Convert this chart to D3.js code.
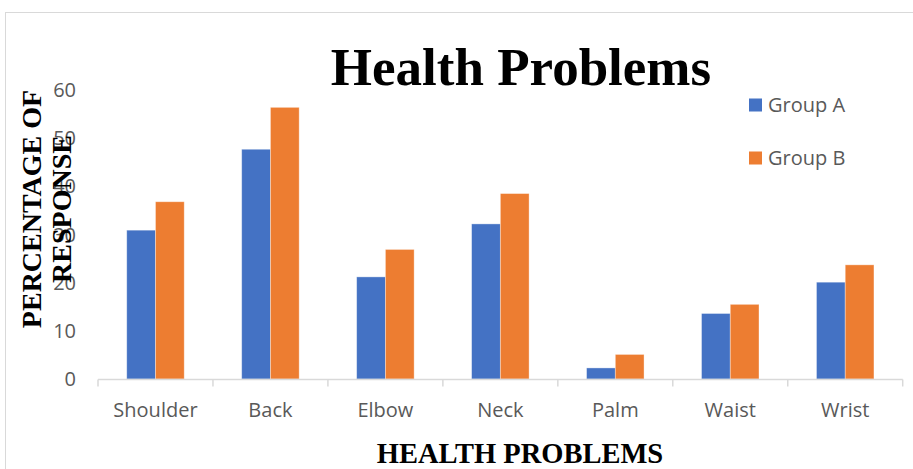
<!DOCTYPE html>
<html>
<head>
<meta charset="utf-8">
<script src="https://cdn.jsdelivr.net/npm/d3@7"></script>
<style>
  html, body { margin: 0; padding: 0; background: #fff; }
  svg { display: block; }
</style>
</head>
<body>
<svg id="chart" width="913" height="469"></svg>
<script>
// Body areas surveyed
const categories = ["Shoulder", "Back", "Elbow", "Neck", "Palm", "Waist", "Wrist"];
// Percentage of respondents reporting each problem
const groupA = [30.9, 47.7, 21.2, 32.2, 2.3, 13.6, 20.1];
const groupB = [36.8, 56.4, 26.9, 38.5, 5.1, 15.5, 23.7];
const seriesNames = ["Group A", "Group B"];
const seriesColors = ["#4472c4", "#ed7d31"];
const yTicks = [0, 10, 20, 30, 40, 50, 60];

const series = [groupA, groupB];
const svg = d3.select("#chart");
const labelFont = "'Open Sans', sans-serif";
const labelSize = 20;

// outer chart frame
svg.append("rect")
  .attr("x", 5.5).attr("y", 12.5)
  .attr("width", 930).attr("height", 470)
  .attr("fill", "none").attr("stroke", "#d9d9d9").attr("stroke-width", 1);

const plot = { left: 98, right: 902.7, top: 90, bottom: 379 };

const x0 = d3.scaleBand()
  .domain(categories)
  .range([plot.left, plot.right])
  .padding(0);

const x1 = d3.scaleBand()
  .domain(d3.range(series.length))
  .range([x0.bandwidth() * 0.25, x0.bandwidth() * 0.75])
  .padding(0);

const y = d3.scaleLinear()
  .domain([0, 60])
  .range([plot.bottom, plot.top]);

// bars
const groups = svg.append("g").selectAll("g")
  .data(categories)
  .join("g")
  .attr("transform", d => `translate(${x0(d)},0)`);

groups.selectAll("rect")
  .data((d, i) => series.map((s, k) => ({ k, v: s[i] })))
  .join("rect")
  .attr("x", d => x1(d.k))
  .attr("y", d => y(d.v))
  .attr("width", x1.bandwidth())
  .attr("height", d => y(0) - y(d.v))
  .attr("fill", d => seriesColors[d.k])
  .attr("stroke", "rgba(255,255,255,0.45)")
  .attr("stroke-width", 0.8);

// category axis
const xAxis = svg.append("g")
  .attr("transform", `translate(0,${plot.bottom + 0.5})`);
xAxis.append("line")
  .attr("x1", plot.left).attr("x2", plot.right)
  .attr("stroke", "#d9d9d9").attr("stroke-width", 1.5);
const bounds = categories.map(c => x0(c)).concat([plot.right]);
xAxis.selectAll("line.tick")
  .data(bounds)
  .join("line")
  .attr("class", "tick")
  .attr("x1", d => d).attr("x2", d => d)
  .attr("y1", 0).attr("y2", 7)
  .attr("stroke", "#d9d9d9").attr("stroke-width", 1.5);
xAxis.selectAll("text")
  .data(categories)
  .join("text")
  .attr("x", d => x0(d) + x0.bandwidth() / 2)
  .attr("y", 37)
  .attr("text-anchor", "middle")
  .attr("font-family", labelFont)
  .attr("font-size", labelSize)
  .attr("fill", "#595959")
  .text(d => d);

// value axis labels
svg.append("g").selectAll("text")
  .data(yTicks)
  .join("text")
  .attr("x", 76)
  .attr("y", d => y(d))
  .attr("dy", "0.35em")
  .attr("text-anchor", "end")
  .attr("font-family", labelFont)
  .attr("font-size", labelSize)
  .attr("fill", "#595959")
  .text(d => d);

// title
svg.append("text")
  .attr("x", 521).attr("y", 85)
  .attr("text-anchor", "middle")
  .attr("font-family", "'Liberation Serif', 'Times New Roman', serif")
  .attr("font-weight", "bold")
  .attr("font-size", 53)
  .attr("fill", "#000")
  .text("Health Problems");

// axis titles
svg.append("text")
  .attr("x", 520).attr("y", 463)
  .attr("text-anchor", "middle")
  .attr("font-family", "'Liberation Serif', 'Times New Roman', serif")
  .attr("font-weight", "bold")
  .attr("font-size", 28.5)
  .attr("fill", "#000")
  .text("HEALTH PROBLEMS");

const yTitle = svg.append("text")
  .attr("transform", "translate(41,209) rotate(-90)")
  .attr("text-anchor", "middle")
  .attr("font-family", "'Liberation Serif', 'Times New Roman', serif")
  .attr("font-weight", "bold")
  .attr("font-size", 28)
  .attr("fill", "#000");
yTitle.append("tspan").attr("x", 0).attr("y", 0).text("PERCENTAGE OF");
yTitle.append("tspan").attr("x", 0).attr("y", 30).text("RESPONSE");

// legend
const legend = svg.append("g").selectAll("g")
  .data(seriesNames)
  .join("g")
  .attr("transform", (d, i) => `translate(749,${105 + i * 53})`);
legend.append("rect")
  .attr("x", 0).attr("y", -6.5)
  .attr("width", 13).attr("height", 13)
  .attr("fill", (d, i) => seriesColors[i]);
legend.append("text")
  .attr("x", 19).attr("y", 0)
  .attr("dy", "0.35em")
  .attr("font-family", labelFont)
  .attr("font-size", labelSize)
  .attr("fill", "#595959")
  .text(d => d);
</script>
</body>
</html>
